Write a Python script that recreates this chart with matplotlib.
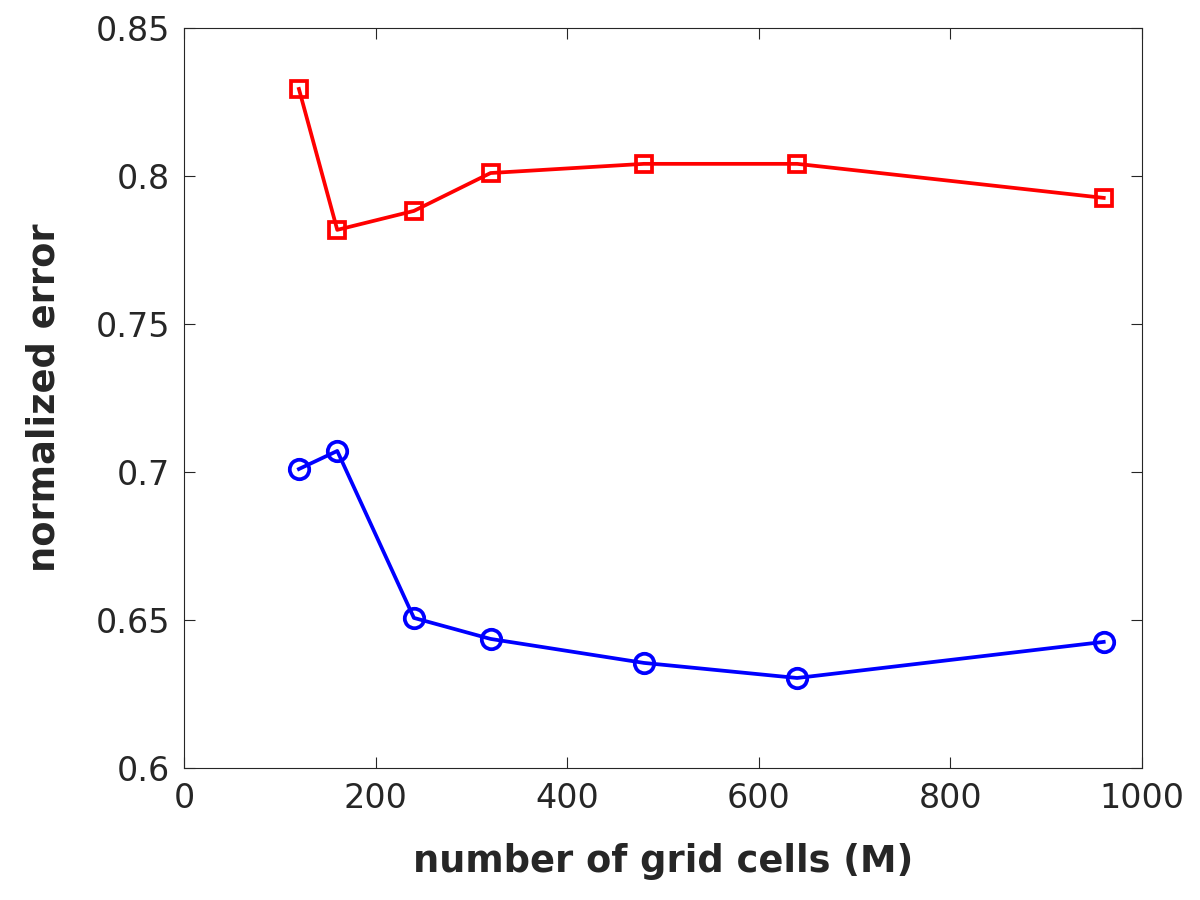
import matplotlib
matplotlib.use("Agg")
import matplotlib.pyplot as plt

# grid size in millions of cells
cells = [120, 160, 240, 320, 480, 640, 960]
err_red = [0.8294, 0.7818, 0.7882, 0.8010, 0.8041, 0.8041, 0.7926]
err_blue = [0.7010, 0.7071, 0.6507, 0.6436, 0.6355, 0.6304, 0.6426]

xticks = [0, 200, 400, 600, 800, 1000]
yticks = [0.6, 0.65, 0.7, 0.75, 0.8, 0.85]
yticklabels = ["0.6", "0.65", "0.7", "0.75", "0.8", "0.85"]

txt = "#262626"
plt.rcParams["font.family"] = "DejaVu Sans"

fig = plt.figure(figsize=(12, 9), dpi=100)
ax = fig.add_axes([0.1533, 0.1467, 0.7984, 0.8222])

ax.plot(cells, err_red, color="red", lw=2.7, marker="s", ms=12,
        mfc="none", mew=2.7)
ax.plot(cells, err_blue, color="blue", lw=2.7, marker="o", ms=14,
        mfc="none", mew=2.7)

ax.set_xlim(0, 1000)
ax.set_ylim(0.6, 0.85)
ax.set_xticks(xticks)
ax.set_yticks(yticks)
ax.set_yticklabels(yticklabels)
ax.tick_params(direction="in", top=True, right=True, length=8, width=0.8,
               labelsize=24, colors=txt, pad=10)
for s in ax.spines.values():
    s.set_color(txt)
    s.set_linewidth(0.8)

ax.set_xlabel("number of grid cells (M)", fontsize=26.5, fontweight="bold",
              color=txt, labelpad=20)
ax.set_ylabel("normalized error", fontsize=26.5, fontweight="bold",
              color=txt, labelpad=24)

fig.savefig("out.png", dpi=100)
